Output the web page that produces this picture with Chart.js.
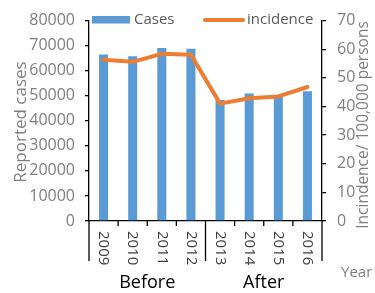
<!DOCTYPE html>
<html>
<head>
<meta charset="utf-8">
<script src="https://cdn.jsdelivr.net/npm/chart.js@4/dist/chart.umd.min.js"></script>
<style>
html,body{margin:0;padding:0;background:#fff;}
canvas{display:block;}
</style>
</head>
<body>
<canvas id="c" width="375" height="293"></canvas>
<script>
const years = ['2009','2010','2011','2012','2013','2014','2015','2016'];
const cases = [66450, 65800, 69100, 68800, 48350, 50850, 49800, 51800];
const incidence = [56.3, 55.6, 58.4, 58.1, 41.0, 42.9, 43.5, 46.8];
const periods = ['Before', 'After'];
const periodSizes = [4, 4];
const casesAxis = [0, 80000, 10000];
const incidenceAxis = [0, 70, 10];
const seriesNames = ['Cases', 'incidence'];
const titles = ['Reported cases', 'Incindence/ 100,000 persons', 'Year'];

const BLUE = '#5B9BD5', ORANGE = '#ED7D31', GRAY = '#7F7F7F', FONT = "'Open Sans', sans-serif";

const extras = {
  id: 'extras',
  afterDraw(chart) {
    const ctx = chart.ctx, x = chart.scales.x, ca = chart.chartArea;
    const n = years.length;
    const bottom = ca.bottom;
    ctx.save();
    ctx.strokeStyle = '#000'; ctx.lineWidth = 1.3;
    const bounds = [];
    for (let i = 0; i <= n; i++) {
      let px;
      if (i === 0) px = ca.left;
      else if (i === n) px = ca.right;
      else px = (x.getPixelForValue(i - 1) + x.getPixelForValue(i)) / 2;
      bounds.push(px);
    }
    let cum = [0]; periodSizes.forEach(s => cum.push(cum[cum.length - 1] + s));
    bounds.forEach((px, i) => {
      const long = cum.includes(i);
      ctx.beginPath();
      ctx.moveTo(px, bottom);
      ctx.lineTo(px, long ? 261 : bottom + 5);
      ctx.stroke();
    });
    ctx.fillStyle = '#404040';
    ctx.font = '15px ' + FONT;
    ctx.textAlign = 'left'; ctx.textBaseline = 'middle';
    years.forEach((y, i) => {
      ctx.save();
      ctx.translate(x.getPixelForValue(i), 231);
      ctx.rotate(Math.PI / 2);
      ctx.fillText(y, 0, 0);
      ctx.restore();
    });
    ctx.fillStyle = '#000';
    ctx.font = '18px ' + FONT;
    ctx.textAlign = 'center';
    periods.forEach((p, k) => {
      const a = x.getPixelForValue(cum[k]), b = x.getPixelForValue(cum[k + 1] - 1);
      ctx.fillText(p, (a + b) / 2, 283);
    });
    ctx.fillStyle = GRAY;
    ctx.font = '15px ' + FONT;
    ctx.textAlign = 'left';
    ctx.fillText(titles[2], 341, 273);
    ctx.textAlign = 'center';
    ctx.font = '17px ' + FONT;
    ctx.save(); ctx.translate(21, 122); ctx.rotate(-Math.PI / 2); ctx.fillText(titles[0], 0, 0); ctx.restore();
    ctx.font = '15.5px ' + FONT;
    ctx.save(); ctx.translate(364, 125); ctx.rotate(-Math.PI / 2); ctx.fillText(titles[1], 0, 0); ctx.restore();
    ctx.font = '15px ' + FONT;
    ctx.textAlign = 'left';
    ctx.fillStyle = BLUE; ctx.fillRect(92, 16, 38, 7.5);
    ctx.fillStyle = '#595959'; ctx.fillText(seriesNames[0], 134, 20);
    ctx.strokeStyle = ORANGE; ctx.lineWidth = 4; ctx.lineCap = 'round';
    ctx.beginPath(); ctx.moveTo(205, 20); ctx.lineTo(243, 20); ctx.stroke();
    ctx.fillText(seriesNames[1], 247, 20);
    ctx.restore();
  }
};

new Chart(document.getElementById('c'), {
  type: 'bar',
  data: {
    labels: years,
    datasets: [
      { type: 'line', label: seriesNames[1], data: incidence, yAxisID: 'y1', borderColor: ORANGE, backgroundColor: ORANGE, borderWidth: 4, pointRadius: 0, tension: 0, order: 0, borderJoinStyle: 'round', borderCapStyle: 'round' },
      { type: 'bar', label: seriesNames[0], data: cases, yAxisID: 'y', backgroundColor: BLUE, categoryPercentage: 1, barPercentage: 0.31, order: 1 }
    ]
  },
  options: {
    responsive: false,
    animation: false,
    devicePixelRatio: 1,
    layout: { padding: { top: 13, left: 0, right: 0, bottom: 0 } },
    plugins: { legend: { display: false }, tooltip: { enabled: false } },
    scales: {
      x: {
        grid: { display: false },
        border: { color: '#000', width: 1.3 },
        ticks: { display: false },
        afterFit(s) { s.height = 72; }
      },
      y: {
        position: 'left', min: casesAxis[0], max: casesAxis[1],
        grid: { drawOnChartArea: false, drawTicks: true, tickLength: 4, color: '#000', lineWidth: 1.3 },
        border: { color: '#000', width: 1.3 },
        ticks: { stepSize: casesAxis[2], color: GRAY, padding: 10, font: { family: FONT, size: 16 }, callback: v => String(v) },
        afterFit(s) { s.width = 89; }
      },
      y1: {
        position: 'right', min: incidenceAxis[0], max: incidenceAxis[1],
        grid: { drawOnChartArea: false, drawTicks: true, tickLength: 4, color: '#000', lineWidth: 1.3 },
        border: { color: '#000', width: 1.3 },
        ticks: { stepSize: incidenceAxis[2], color: GRAY, padding: 11, font: { family: FONT, size: 16 }, callback: v => String(v) },
        afterFit(s) { s.width = 53; }
      }
    }
  },
  plugins: [extras]
});
</script>
</body>
</html>
